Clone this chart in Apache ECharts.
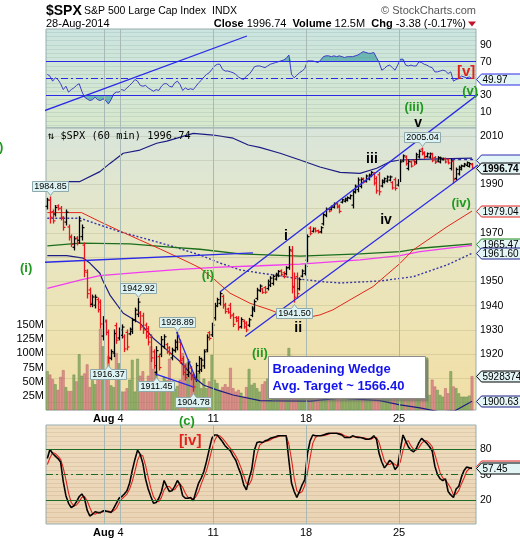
<!DOCTYPE html>
<html>
<head>
<meta charset="utf-8">
<title>$SPX 60 min</title>
<script src="https://cdn.jsdelivr.net/npm/echarts@6.0.0/dist/echarts.min.js"></script>
<style>
html,body{margin:0;padding:0;background:#fff;}
#chart{width:520px;height:540px;}
</style>
</head>
<body>
<div id="chart"></div>
<script>
const FONT = '"Liberation Sans", Arial, Helvetica, sans-serif';
const MONO = '"DejaVu Sans Mono", "Liberation Mono", monospace';

// ---------- axis ticks / labels ----------
const xTickValues = [28, 63, 98, 133];          // bar-slot boundaries (Mondays)
const xTickLabels = ['Aug 4', '11', '18', '25'];
const xGridValues = [22, 28, 63, 98, 133];       // vertical grid lines (month + weeks)
const priceTicks = [1920, 1930, 1940, 1950, 1970, 1990, 2000, 2010];   // others sit under value boxes
const volumeTicks = [25, 50, 75, 100, 125, 150];
const rsiTicks = [10, 30, 70, 90];
const stochTicks = [20, 50, 80];

// ---------- price bars (60 min) : [open, high, low, close] ----------
const ohlc = [
[1981.0,1984.3,1979.9,1983.6],[1983.5,1984.85,1974.1,1976.5],[1978.8,1979.5,1974.1,1975.0],[1977.8,1981.3,1977.0,1980.5],[1981.2,1981.6,1979.5,1980.0],
[1980.2,1980.9,1975.4,1976.5],[1976.0,1976.7,1971.2,1972.3],[1974.5,1979.5,1973.3,1978.6],[1972.5,1973.3,1967.1,1968.2],[1968.5,1969.2,1964.4,1965.3],
[1964.1,1968.5,1963.0,1967.6],[1967.9,1968.5,1965.1,1965.8],[1967.0,1976.7,1965.8,1975.0],[1968.5,1973.3,1967.1,1972.2],[1965.0,1965.9,1952.0,1954.5],
[1953.8,1954.8,1943.2,1945.0],[1946.5,1947.3,1939.6,1941.0],[1940.5,1944.4,1939.6,1943.6],[1940.2,1944.4,1939.1,1943.5],[1942.5,1943.2,1937.4,1938.4],
[1941.5,1942.4,1930.8,1932.5],[1927.5,1935.5,1925.9,1934.0],[1933.4,1934.1,1928.0,1929.0],[1929.0,1930.0,1916.37,1918.5],[1918.3,1921.8,1917.7,1921.1],
[1920.5,1930.0,1919.0,1928.5],[1931.8,1932.8,1924.5,1925.8],[1926.7,1930.8,1925.9,1930.0],[1927.8,1932.1,1926.7,1931.2],[1927.2,1928.0,1921.1,1922.2],
[1929.0,1930.0,1921.8,1923.0],[1928.4,1930.8,1928.0,1930.3],[1929.5,1934.8,1928.6,1934.0],[1934.2,1939.0,1933.4,1938.2],[1936.5,1942.92,1935.5,1941.5],
[1937.0,1937.6,1930.0,1931.2],[1935.8,1936.9,1928.6,1930.0],[1932.0,1932.8,1926.6,1927.5],[1930.5,1931.4,1923.8,1925.0],[1927.0,1928.0,1917.0,1918.5],
[1921.0,1921.8,1914.2,1915.3],[1912.5,1923.1,1911.45,1921.5],[1919.0,1919.7,1913.5,1914.5],[1920.0,1927.3,1919.0,1926.0],[1923.2,1928.0,1922.5,1927.2],
[1924.0,1924.5,1920.4,1921.0],[1922.6,1923.1,1919.7,1920.3],[1918.5,1922.5,1917.7,1921.8],[1921.5,1925.9,1920.9,1925.0],[1922.8,1928.89,1921.8,1927.5],
[1925.0,1925.9,1916.3,1917.5],[1918.2,1919.0,1911.5,1912.5],[1915.0,1915.6,1909.4,1910.3],[1911.6,1917.7,1910.8,1916.8],[1914.3,1914.9,1909.4,1910.2],
[1911.5,1912.2,1904.78,1906.5],[1909.8,1916.3,1908.8,1915.3],[1913.0,1919.0,1912.2,1918.2],[1913.6,1918.4,1912.9,1917.6],[1915.2,1921.8,1914.2,1921.0],
[1921.8,1928.0,1921.0,1927.0],[1928.9,1929.3,1925.9,1926.5],[1928.0,1932.8,1927.3,1932.0],[1935.0,1941.0,1934.1,1940.0],[1940.0,1943.1,1939.6,1942.5],
[1941.0,1945.8,1940.3,1945.0],[1943.8,1944.4,1939.0,1940.0],[1940.4,1941.0,1936.9,1937.6],[1938.6,1939.0,1936.9,1937.3],[1940.2,1941.0,1934.8,1935.8],
[1936.2,1936.9,1931.4,1932.3],[1935.1,1935.5,1933.4,1933.8],[1934.8,1935.5,1930.0,1931.0],[1931.4,1935.0,1930.8,1934.3],[1933.6,1934.1,1930.7,1931.3],
[1932.8,1933.4,1929.3,1930.0],[1932.0,1934.8,1931.4,1934.2],[1936.0,1939.6,1935.5,1939.0],[1938.3,1942.4,1937.6,1941.7],[1943.0,1947.2,1942.4,1946.5],
[1946.2,1948.6,1945.8,1948.1],[1946.9,1947.2,1945.1,1945.5],[1947.5,1947.9,1945.1,1945.6],[1947.1,1950.6,1946.5,1950.0],[1948.5,1952.0,1947.9,1951.4],
[1949.2,1952.7,1948.6,1952.1],[1951.0,1953.4,1950.6,1953.0],[1952.4,1954.5,1952.0,1954.1],[1954.4,1954.8,1952.3,1952.8],[1953.6,1954.0,1951.5,1952.0],
[1953.2,1956.1,1952.7,1955.6],[1955.8,1964.4,1955.0,1963.0],[1962.5,1964.4,1945.3,1947.5],[1948.0,1953.5,1941.50,1943.5],[1952.0,1953.5,1943.2,1945.0],
[1947.0,1951.5,1946.5,1950.8],[1952.2,1954.8,1951.9,1954.3],[1953.3,1956.8,1952.7,1956.2],[1958.8,1969.2,1958.1,1968.5],[1972.0,1972.6,1969.2,1969.8],
[1970.7,1972.1,1970.4,1971.8],[1971.8,1972.1,1970.4,1970.8],[1971.0,1971.2,1970.0,1970.3],[1970.5,1972.6,1970.0,1972.2],[1973.8,1978.3,1973.3,1977.6],
[1977.2,1980.3,1976.7,1979.8],[1980.0,1980.3,1978.7,1979.0],[1979.8,1981.1,1979.5,1980.8],[1980.6,1982.4,1980.3,1982.0],[1982.1,1982.4,1980.3,1980.7],
[1981.1,1981.6,1978.3,1978.9],[1982.7,1984.0,1982.4,1983.7],[1983.1,1984.4,1982.8,1984.1],[1983.5,1984.9,1983.2,1984.6],[1984.3,1985.7,1984.0,1985.4],
[1981.5,1987.7,1980.3,1986.9],[1987.0,1989.8,1986.5,1989.3],[1987.9,1992.7,1987.0,1991.9],[1989.2,1992.7,1988.6,1992.1],[1992.4,1992.7,1990.6,1991.0],
[1991.4,1993.9,1991.0,1993.5],[1992.3,1994.3,1991.9,1993.9],[1993.5,1995.3,1993.2,1995.0],[1994.3,1994.9,1989.8,1990.6],[1992.4,1993.2,1986.4,1987.4],
[1994.0,1994.9,1985.7,1987.0],[1989.4,1991.9,1989.0,1991.5],[1990.9,1992.7,1990.6,1992.4],[1991.4,1993.5,1991.0,1993.1],[1991.8,1993.5,1991.5,1993.1],
[1990.8,1991.2,1988.1,1988.6],[1992.0,1992.7,1987.7,1988.4],[1989.8,1991.9,1989.4,1991.5],[1992.0,2000.1,1991.2,1999.3],[1999.8,2002.2,1999.4,2001.8],
[2001.3,2001.8,1998.0,1998.6],[1996.6,2000.1,1996.0,1999.5],[1999.3,1999.7,1997.2,1997.6],[1999.8,2000.1,1998.0,1998.4],[1999.3,2002.9,1998.7,2002.3],
[2001.4,2004.2,2000.9,2003.7],[2004.6,2005.04,2002.2,2002.7],[2003.1,2003.5,2000.8,2001.3],[2001.6,2003.0,2001.3,2002.7],[2001.3,2003.0,2000.9,2002.6],
[2002.4,2002.9,1999.4,1999.9],[2001.1,2001.5,1998.7,1999.2],[1999.7,2001.5,1999.4,2001.1],[1999.3,2001.3,1998.9,2000.9],[2000.2,2000.9,2000.1,2000.7],
[2000.6,2000.9,1998.9,1999.3],[2000.2,2000.5,1998.5,1998.9],[1996.6,2000.4,1996.0,1999.8],[1999.5,2000.4,1990.6,1992.0],[1992.5,1996.8,1991.9,1996.2],
[1994.4,1997.6,1993.9,1997.1],[1996.3,1998.0,1996.0,1997.7],[1997.5,1998.7,1997.3,1998.4],[1997.9,1999.3,1997.6,1999.0],[1997.5,1998.9,1997.2,1998.6],
[1998.2,1998.7,1996.3,1996.74]
];

// ---------- volume (M, as on the left scale) ----------
const volume = [
68,62,54,45,35,58,70,40,33,33, 62,50,98,60,64,80,40,52,45,55,
143,112,60,95,43,40,100,82,32,32, 38,53,88,32,90,60,68,40,60,112,
72,68,50,40,58,52,90,40,37,42, 53,100,82,85,65,62,55,65,38,55,
38,50,97,53,47,35,40,45,40,74, 38,32,35,30,23,40,72,44,47,38,
32,45,50,55,48,42,40,45,50,60, 70,109,95,80,60,50,45,40,90,60,
45,40,35,38,55,45,40,38,35,40, 50,42,38,35,40,60,50,55,45,40,
38,35,40,55,60,65,50,45,40,38, 45,50,60,80,55,50,45,40,38,50,
60,50,45,92,26,53,41,35,26,23, 38,29,68,41,38,29,23,23,23,25, 59.28
];

// ---------- RSI ----------
const rsi = [
55,53,47,51,49,44,37,41,34,37, 39,42,44,35,28,26,24,25,28,25,
24,26,24,20,25,32,34,34,37,36, 39,42,45,49,47,42,41,42,39,37,
35,37,36,41,44,44,41,40,45,47, 43,36,39,37,38,37,41,45,48,52,
55,57,61,65,67,67,61,59,59,58, 57,55,52,50,49,53,55,59,64,65,
65,64,63,65,67,68,69,70,71,72, 74,78,55,51,54,57,59,62,71,71,
71,70,69,72,76,77,77,76,77,76, 77,76,75,76,76,76,77,78,80,82,
81,80,80,81,75,69,60,62,65,66, 63,60,66,73,73,66,65,66,65,65,
70,69,67,66,64,63,58,58,59,60, 59,56,58,47,49,50,53,52,51,52, 49.97
];

// ---------- Slow stochastics ----------
const stochK = [
69,80,75,72,69,65,42,25,16,11, 13,18,24,27,22,8,1,3,6,5,
5,7,7,6,5,10,16,22,24,27, 31,40,55,68,79,74,63,45,33,24,
16,17,22,30,43,36,30,31,36,43, 38,25,22,22,23,19,30,40,46,54,
66,80,93,97,97,93,89,84,81,78, 72,67,58,50,38,32,45,56,79,88,
89,88,90,91,93,94,95,96,96,96, 96,67,40,30,23,30,38,44,75,90,
97,96,96,96,97,98,99,99,99,99, 98,97,94,94,94,96,95,94,94,93,
92,92,93,96,92,75,65,58,62,67, 64,56,60,80,97,90,83,79,77,81,
88,93,90,87,83,78,60,50,45,43, 45,30,26,23,33,36,47,55,59,58, 57.45
];
const stochD = [
62,70,76,75,72,68,58,44,28,17, 13,14,18,23,24,19,11,4,3,5,
5,6,6,7,6,7,10,16,21,24, 27,33,42,54,67,74,72,61,47,34,
24,19,18,23,32,36,36,32,32,37, 39,35,28,23,22,21,24,30,39,47,
55,67,80,90,96,96,93,89,85,81, 77,72,66,58,49,40,38,44,60,74,
85,88,89,90,91,93,94,95,96,96, 96,86,68,46,31,28,30,37,52,70,
87,94,96,96,96,97,98,99,99,99, 99,98,96,95,94,95,95,95,94,94,
93,92,92,94,94,88,77,66,62,62, 64,62,60,65,79,89,90,84,80,79,
82,87,90,90,87,83,74,63,52,46, 44,39,34,26,27,31,39,46,54,57, 58
];

// ---------- overlays : [bar index, price] ----------
const bandUpper = [[0,1991.2],[12.3,1991.2],[19.8,1995.3],[23.6,1998.7],[28.6,2002.9],[34.9,2004.2],[41.2,2007.0],[45,2007.9],[55,2011.1],[62.5,2010.4],[70,2009.1],[75.7,2006.3],[80,2005.3],[87.7,2002.9],[95.2,2000.1],[102.7,1997.2],[110.3,1995.0],[117.8,1994.6],[124.1,1996.7],[129.1,1999.4],[132.9,2000.1],[144,2000.5],[160,2000.9]];
const bandLower = [[0,1960.7],[7.3,1960.7],[13.6,1959.6],[16.1,1957.5],[19.8,1953.4],[20.8,1950.6],[23.6,1944.4],[28.6,1936.9],[34.9,1932.8],[39.9,1926.6],[45,1921.8],[50,1917.0],[55,1910.8],[58.8,1907.3],[63.8,1905.3],[70,1903.2],[80.1,1900.9],[99,1900.7],[110.3,1901.9],[125.3,1900.9],[132.9,1899.1],[140.4,1897.9],[147.9,1896.2],[153.6,1896.7],[160,1900.63]];
const maDotted = [[0,1976.1],[12.3,1976.1],[19.8,1973.3],[27.4,1970.5],[38.7,1967.1],[48.1,1964.2],[57.5,1960.9],[65.1,1957.6],[72.6,1954.8],[80.1,1953.5],[87.7,1952.3],[95.2,1951.0],[102.7,1950.0],[110.3,1949.4],[117.8,1949.8],[125.3,1950.2],[137.9,1952.0],[150.5,1956.8],[160,1961.6]];
const maRed = [[0,1978.4],[12.9,1978.4],[19.8,1974.7],[27.4,1970.8],[34.9,1967.1],[42.5,1963.4],[47.4,1960.9],[53.8,1957.6],[57.5,1955.6],[63.2,1950.6],[68.8,1945.2],[76.4,1941.0],[83.9,1938.3],[88.8,1936.2],[96.3,1934.8],[102.7,1936.2],[107.6,1938.3],[114,1942.4],[122.7,1947.9],[132.9,1957.5],[137.8,1963.0],[150.6,1972.6],[160,1979.04]];
const maGreen = [[0,1964.7],[12.3,1965.8],[31.1,1965.5],[46.2,1964.2],[57.5,1963.3],[72.6,1961.4],[95.2,1960.5],[117.8,1961.4],[132.9,1962.3],[140.4,1963.7],[160,1965.47]];
const maMagenta = [[0,1947.2],[12.3,1950.6],[19.8,1952.4],[34.9,1953.8],[50,1955.0],[65.1,1955.9],[80.1,1956.5],[95.2,1957.2],[117.8,1958.9],[132.9,1960.7],[140.4,1962.3],[160,1964.9]];

// ---------- hand-drawn annotations (axis units, value) ----------
const trendRsi = [[-17.3,-7.4],[75.7,100.5]];
const trendMain = [
  [[-17.3,1957.1],[78,1961.8]],
  [[65.6,1945.8],[165.4,2029.4]],
  [[75,1927.3],[178.6,2010.8]],
  [[41.1,1911.9],[55.4,1906.5]],
  [[49.2,1929.3],[56.8,1909.0]]
];
const dashed2000 = [[153,2000.3],[162,2000.3]];
const waveLabels = [
  ['rsi',138.7,16.3,'(iii)','g',13],['rsi',140.2,-2.6,'v','k',14],['rsi',158.3,57.8,'[v]','r',15],['rsi',159.8,35.3,'(v)','g',13],
  ['main',122.8,2000.5,'iii','k',14],['main',128.1,1975.4,'iv','k',14],['main',156.4,1982.0,'(iv)','g',13],
  ['main',90.4,1968.8,'i','k',14],['main',95.0,1930.8,'ii','k',14],['main',61.0,1952.7,'(i)','g',13],
  ['main',-7.5,1955.2,'(i)','g',13],['main',-18.4,2005.1,'(i)','g',13],['main',80.6,1920.5,'(ii)','g',13],
  ['main',53.1,1892.1,'(c)','g',13],['sto',54.3,89.8,'[iv]','r',15]
];
const callouts = [
  ['1984.85',1.5,1984.85,'down'],['1942.92',34.5,1942.92,'down'],['1916.37',23.5,1916.37,'up'],
  ['1911.45',41.5,1911.45,'up'],['1928.89',49.5,1928.89,'down'],['1904.78',55.5,1904.78,'up'],
  ['1941.50',93.5,1941.50,'up'],['2005.04',141.5,2005.04,'down']
];
const noteLines = ['Broadening Wedge', 'Avg. Target ~ 1566.40'];
const noteBox = [[83.6,1919.3],[142.8,1902.0]];

const COL = {g:'#1f9a1f', k:'#000000', r:'#e3211c'};
const BLUE = '#2a2ae6', NAVY = '#1c1c84';

const chart = echarts.init(document.getElementById('chart'), null, {renderer:'canvas', width:520, height:540});

function stepList(a, b, s){ const r=[]; for(let v=a; v<=b+1e-9; v+=s) r.push(+v.toFixed(2)); return r; }
function hLines(vals, style){ return vals.map(v => ({yAxis:v, lineStyle:style})); }
function vLines(vals, style){ return vals.map(v => ({xAxis:v, lineStyle:style})); }
function ml(data){ return {silent:true, symbol:['none','none'], label:{show:false}, emphasis:{disabled:true}, animation:false, data}; }

const vGrid = {color:'#a9b9b5', width:1, type:'solid'};
const grad = (stops) => new echarts.graphic.LinearGradient(0,0,0,1, stops.map(([o,c])=>({offset:o,color:c})));

const yLab = {color:'#000', fontSize:10.5, fontFamily:FONT, margin:4, formatter: v => String(v)};
const noAx = {axisLine:{show:false}, axisTick:{show:false}, splitLine:{show:false}};

const xLabel = {
  show:true, customValues:xTickValues, margin:3, color:'#000', fontSize:11, fontFamily:FONT,
  formatter: v => { const k = xTickValues.indexOf(Math.round(v)); if (k<0) return ''; const parts = xTickLabels[k].split(' ');
    return parts.length === 2 ? '{b|' + parts[0] + ' }' + parts[1] + '{p| }' : parts[0]; },
  rich:{ b:{fontWeight:'bold', fontSize:11, fontFamily:FONT, color:'#000'}, p:{width:24} }
};

const option = {
  animation:false,
  backgroundColor:'#ffffff',
  grid:[
    {left:46, top:29, width:430, height:99, show:true, backgroundColor:grad([[0,'#cbe4df'],[1,'#d8e8cd']]), borderColor:'#97adb0', borderWidth:1, outerBoundsMode:'none'},
    {left:46, top:128, width:430, height:282, show:true, backgroundColor:grad([[0,'#d9e5db'],[0.35,'#e5e6c6'],[0.7,'#eee3b3'],[1,'#f1dea4']]), borderColor:'#97adb0', borderWidth:1, outerBoundsMode:'none'},
    {left:46, top:425, width:430, height:99, show:true, backgroundColor:grad([[0,'#eedcbf'],[1,'#ead4b5']]), borderColor:'#97adb0', borderWidth:1, outerBoundsMode:'none'}
  ],
  xAxis:[
    Object.assign({type:'value', gridIndex:0, min:0, max:162, axisLabel:{show:false}}, noAx),
    Object.assign({type:'value', gridIndex:1, min:0, max:162, axisLabel:xLabel}, noAx),
    Object.assign({type:'value', gridIndex:2, min:0, max:162, axisLabel:xLabel}, noAx)
  ],
  yAxis:[
    Object.assign({type:'value', gridIndex:0, position:'right', min:-8.5, max:108.8, axisLabel:Object.assign({customValues:rsiTicks}, yLab)}, noAx),
    Object.assign({type:'value', gridIndex:1, position:'right', min:1897, max:2013.3, axisLabel:Object.assign({customValues:priceTicks}, yLab)}, noAx),
    Object.assign({type:'value', gridIndex:1, position:'left', min:0, max:497.6, axisLabel:{customValues:volumeTicks, formatter:'{value}M', color:'#000', fontSize:11, fontFamily:FONT, margin:2}}, noAx),
    Object.assign({type:'value', gridIndex:2, position:'right', min:-8.5, max:108.8, axisLabel:Object.assign({customValues:stochTicks}, yLab)}, noAx)
  ],
  series:[
    // grid lines holders
    {type:'line', xAxisIndex:0, yAxisIndex:0, data:[], z:1, silent:true,
      markLine:ml(hLines(stepList(-5,105,5), {color:'rgba(80,130,120,0.14)', width:1, type:'solid'}).concat(vLines(xGridValues, vGrid)))},
    {type:'line', xAxisIndex:1, yAxisIndex:1, data:[], z:1, silent:true,
      markLine:ml(hLines(stepList(1900,2010,10), {color:'rgba(130,130,80,0.18)', width:1, type:'solid'}).concat(vLines(xGridValues, vGrid)))},
    {type:'line', xAxisIndex:2, yAxisIndex:3, data:[], z:1, silent:true,
      markLine:ml(hLines(stepList(-5,105,5), {color:'rgba(150,105,60,0.14)', width:1, type:'solid'}).concat(vLines(xGridValues, vGrid)))},

    // RSI panel
    {type:'line', xAxisIndex:0, yAxisIndex:0, z:2, silent:true, symbol:'none',
      data: rsi.map((v,i)=>[i+0.5, Math.max(v,70)]), lineStyle:{width:0, opacity:0}, areaStyle:{color:'#6db7b3', origin:70, opacity:1}},
    {type:'line', xAxisIndex:0, yAxisIndex:0, z:2, silent:true, symbol:'none',
      data: rsi.map((v,i)=>[i+0.5, Math.min(v,30)]), lineStyle:{width:0, opacity:0}, areaStyle:{color:'#6db7b3', origin:30, opacity:1}},
    {type:'line', xAxisIndex:0, yAxisIndex:0, z:3, silent:true, symbol:'none',
      data: rsi.map((v,i)=>[i+0.5, v]), lineStyle:{color:'#3c3cc8', width:1},
      markLine:ml([
        {yAxis:70, lineStyle:{color:BLUE, width:1.2, type:'solid'}},
        {yAxis:30, lineStyle:{color:BLUE, width:1.2, type:'solid'}},
        {yAxis:50, lineStyle:{color:BLUE, width:1, type:[7,3,2,3]}}
      ])},
    {type:'line', xAxisIndex:0, yAxisIndex:0, z:6, silent:true, symbol:'none', clip:false,
      data: trendRsi, lineStyle:{color:BLUE, width:1.3}},

    // volume
    {type:'custom', xAxisIndex:1, yAxisIndex:2, z:2, silent:true,
      data: volume.map((v,i)=>[i+0.5, v, ohlc[i][3] < ohlc[i][0] ? 0 : 1]),
      encode:{x:0, y:1},
      renderItem: function(params, api){
        const x = api.value(0), v = api.value(1), up = api.value(2) === 1;
        const a = api.coord([x-0.42, v]), b = api.coord([x+0.42, 0]);
        return {type:'rect', shape:{x:a[0], y:a[1], width:b[0]-a[0], height:b[1]-a[1]},
          style:{fill: up ? 'rgba(138,172,98,0.9)' : 'rgba(218,136,136,0.9)', stroke: up ? '#6f8f52' : '#b86a6a', lineWidth:0.5}};
      }},

    // overlays
    {type:'line', xAxisIndex:1, yAxisIndex:1, z:3, silent:true, symbol:'none', data:bandUpper.map(d=>[d[0]+0.5,d[1]]), lineStyle:{color:NAVY, width:1.2}},
    {type:'line', xAxisIndex:1, yAxisIndex:1, z:3, silent:true, symbol:'none', data:bandLower.map(d=>[d[0]+0.5,d[1]]), lineStyle:{color:NAVY, width:1.2}},
    {type:'line', xAxisIndex:1, yAxisIndex:1, z:3, silent:true, symbol:'none', data:maDotted.map(d=>[d[0]+0.5,d[1]]), lineStyle:{color:'#3434a8', width:1.4, type:[2,2]}},
    {type:'line', xAxisIndex:1, yAxisIndex:1, z:3, silent:true, symbol:'none', data:maGreen.map(d=>[d[0]+0.5,d[1]]), lineStyle:{color:'#1b6e1b', width:1.3}},
    {type:'line', xAxisIndex:1, yAxisIndex:1, z:3, silent:true, symbol:'none', data:maMagenta.map(d=>[d[0]+0.5,d[1]]), lineStyle:{color:'#f23cf2', width:1.3}},
    {type:'line', xAxisIndex:1, yAxisIndex:1, z:3, silent:true, symbol:'none', data:maRed.map(d=>[d[0]+0.5,d[1]]), lineStyle:{color:'#e3261c', width:1}},

    // price bars
    {type:'custom', xAxisIndex:1, yAxisIndex:1, z:4, silent:true,
      data: ohlc.map((d,i)=>[i+0.5, d[0], d[1], d[2], d[3]]),
      encode:{x:0, y:[1,2,3,4]},
      renderItem: function(params, api){
        const x = api.value(0), o = api.value(1), h = api.value(2), l = api.value(3), c = api.value(4);
        const ph = api.coord([x,h]), pl = api.coord([x,l]), po = api.coord([x,o]), pc = api.coord([x,c]);
        const col = c < o ? '#e8141c' : '#000000';
        const xx = Math.round(ph[0]) + 0.5;
        return {type:'group', children:[
          {type:'line', shape:{x1:xx, y1:ph[1]-0.5, x2:xx, y2:pl[1]+0.5}, style:{stroke:col, lineWidth:1.3}},
          {type:'line', shape:{x1:xx-2, y1:po[1], x2:xx, y2:po[1]}, style:{stroke:col, lineWidth:1.2}},
          {type:'line', shape:{x1:xx, y1:pc[1], x2:xx+2, y2:pc[1]}, style:{stroke:col, lineWidth:1.2}}
        ]};
      }},

    // hand-drawn lines on price panel
    ...trendMain.map(pts => ({type:'line', xAxisIndex:1, yAxisIndex:1, z:6, silent:true, symbol:'none', clip:false, data:pts, lineStyle:{color:BLUE, width:1.3}})),
    {type:'line', xAxisIndex:1, yAxisIndex:1, z:6, silent:true, symbol:'none', clip:false, data:dashed2000, lineStyle:{color:'#2d2db0', width:1.3, type:[3,3]}},

    // stochastics
    {type:'line', xAxisIndex:2, yAxisIndex:3, z:3, silent:true, symbol:'none', data:stochD.map((v,i)=>[i+0.5,v]), lineStyle:{color:'#e3211c', width:1.1},
      markLine:ml([
        {yAxis:80, lineStyle:{color:'#1d6a24', width:1.2, type:'solid'}},
        {yAxis:20, lineStyle:{color:'#1d6a24', width:1.2, type:'solid'}},
        {yAxis:50, lineStyle:{color:'#1d6a24', width:1, type:[7,3,2,3]}}
      ])},
    {type:'line', xAxisIndex:2, yAxisIndex:3, z:4, silent:true, symbol:'none', data:stochK.map((v,i)=>[i+0.5,v]), lineStyle:{color:'#000', width:1.6}}
  ]
};
chart.setOption(option);

// ---------- annotations placed through the axes ----------
const G = {rsi:{xAxisIndex:0,yAxisIndex:0}, main:{xAxisIndex:1,yAxisIndex:1}, sto:{xAxisIndex:2,yAxisIndex:3}};
const els = [];

// header
els.push({type:'text', x:46, y:11, z:100, style:{text:'$SPX', font:'bold 14px '+FONT, fill:'#000', verticalAlign:'middle'}});
els.push({type:'text', x:84, y:11, z:100, style:{text:'S&P 500 Large Cap Index', font:'10.5px '+FONT, fill:'#000', verticalAlign:'middle'}});
els.push({type:'text', x:212, y:11, z:100, style:{text:'INDX', font:'10.5px '+FONT, fill:'#000', verticalAlign:'middle'}});
els.push({type:'text', x:476, y:11, z:100, style:{text:'© StockCharts.com', font:'11px '+FONT, fill:'#555', align:'right', verticalAlign:'middle'}});
els.push({type:'text', x:46, y:24, z:100, style:{text:'28-Aug-2014', font:'11px '+FONT, fill:'#000', verticalAlign:'middle'}});
els.push({type:'text', x:466, y:24, z:100, style:{
  text:'{b|Close} 1996.74  {b|Volume} 12.5M  {b|Chg} -3.38 (-0.17%)', font:'11px '+FONT, fill:'#000', align:'right', verticalAlign:'middle',
  rich:{b:{font:'bold 11px '+FONT, fill:'#000'}}}});
els.push({type:'polygon', z:100, shape:{points:[[468,21.5],[476,21.5],[472,26.5]]}, style:{fill:'#c4142a'}});
els.push({type:'text', x:48, y:136, z:100, style:{text:'⇅ $SPX (60 min) 1996.74', font:'10.3px '+MONO, fill:'#000', verticalAlign:'middle'}});

// wave labels
waveLabels.forEach(([g,u,v,t,c,s]) => {
  const p = chart.convertToPixel(G[g], [u, v]);
  els.push({type:'text', x:p[0], y:p[1], z:90, style:{text:t, font:'bold '+s+'px '+FONT, fill:COL[c], align:'center', verticalAlign:'middle'}});
});

// price callouts
callouts.forEach(([text,u,price,dir]) => {
  const p = chart.convertToPixel(G.main, [u, price]);
  const cx = Math.round(p[0]) + 0.5, w = 36, h = 10;
  let pts, ty;
  if (dir === 'down') {
    const b = Math.round(p[1]) - 6 + 0.5, t = b - h;
    pts = [[cx-w/2,t],[cx+w/2,t],[cx+w/2,b],[cx+3,b],[cx,b+4],[cx-3,b],[cx-w/2,b]]; ty = (t+b)/2;
  } else {
    const t = Math.round(p[1]) + 6 + 0.5, b = t + h;
    pts = [[cx-w/2,t],[cx-3,t],[cx,t-4],[cx+3,t],[cx+w/2,t],[cx+w/2,b],[cx-w/2,b]]; ty = (t+b)/2;
  }
  els.push({type:'polygon', z:80, shape:{points:pts}, style:{fill:'#ddf2f2', stroke:'#8ea8ab', lineWidth:1}});
  els.push({type:'text', x:cx, y:ty+0.5, z:81, style:{text, font:'9px '+FONT, fill:'#000', align:'center', verticalAlign:'middle'}});
});

// wedge note
{
  const a = chart.convertToPixel(G.main, noteBox[0]), b = chart.convertToPixel(G.main, noteBox[1]);
  const x = Math.round(a[0])+0.5, y = Math.round(a[1])+0.5, w = Math.round(b[0]-a[0]), h = Math.round(b[1]-a[1]);
  els.push({type:'rect', z:85, shape:{x:x+3, y:y+3, width:w, height:h}, style:{fill:'rgba(110,110,110,0.55)'}});
  els.push({type:'rect', z:86, shape:{x, y, width:w, height:h}, style:{fill:'#ffffff', stroke:'#8c8c8c', lineWidth:1}});
  els.push({type:'text', x:x+4, y:y+13, z:87, style:{text:noteLines[0], font:'bold 13px '+FONT, fill:'#1414ee', verticalAlign:'middle'}});
  els.push({type:'text', x:x+4, y:y+30, z:87, style:{text:noteLines[1], font:'bold 13px '+FONT, fill:'#1414ee', verticalAlign:'middle'}});
}

// right-edge value boxes
function valBox(yAxisIndex, value, text, border, bold, dy){
  const y = Math.round(chart.convertToPixel({yAxisIndex}, value)) + 0.5 + (dy||0);
  const x0 = 476.5, w = 42, h = 11;
  els.push({type:'polygon', z:95, shape:{points:[[x0,y],[x0+5,y-h/2],[x0+5+w,y-h/2],[x0+5+w,y+h/2],[x0+5,y+h/2]]},
    style:{fill:'#e3f5f5', stroke:border, lineWidth:1}});
  if (text) els.push({type:'text', x:x0+6, y:y+0.5, z:96, style:{text, font:(bold?'bold ':'')+'10px '+FONT, fill:'#000', verticalAlign:'middle'}});
}
valBox(0, 49.97, '49.97', BLUE, false);
valBox(1, 2000.3, '', '#2d2db0', false);
valBox(1, 1979.04, '1979.04', '#e3211c', false);
valBox(1, 1965.47, '1965.47', '#1f8a1f', false);
valBox(1, 1961.60, '1961.60', NAVY, false);
valBox(1, 1900.63, '1900.63', NAVY, false);
valBox(1, 1996.74, '1996.74', '#000', true);
valBox(2, 59.28, '5928374', '#000', false);
valBox(3, 60.4, '', '#e3211c', false);
valBox(3, 57.45, '57.45', '#000', false);

chart.setOption({graphic:{elements:els}});
</script>
</body>
</html>
